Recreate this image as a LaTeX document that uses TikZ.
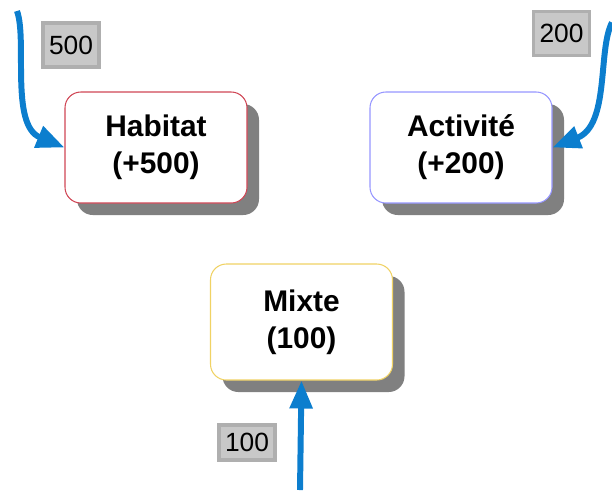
\documentclass[tikz,border=0pt]{standalone}
\usepackage{fontspec}
\setmainfont{Liberation Sans}
\usepackage{xcolor}
\usetikzlibrary{arrows.meta,positioning,shadows}
\definecolor{flowblue}{RGB}{12,126,206}
\definecolor{habred}{RGB}{208,70,85}
\definecolor{actblue}{RGB}{150,150,255}
\definecolor{mixyellow}{RGB}{240,210,100}
\definecolor{lblgray}{RGB}{200,200,200}
\definecolor{lbledge}{RGB}{175,175,175}

\begin{document}
\begin{tikzpicture}[>={Triangle[length=0.56cm,width=0.44cm]},
  box/.style={draw,line width=0.6pt,rounded corners=9pt,fill=white,minimum width=3.64cm,minimum height=2.22cm,
    align=center,font=\fontsize{17}{21}\selectfont\bfseries,
    drop shadow={shadow xshift=0.24cm,shadow yshift=-0.24cm,fill=black!50,opacity=1}},
  lbl/.style={draw=lbledge,line width=2pt,fill=lblgray,inner sep=2pt,minimum width=1.12cm,minimum height=0.88cm,
    font=\fontsize{15}{18}\selectfont},
  flow/.style={->,draw=flowblue,line width=3.4pt}]
  \useasboundingbox (0,0) rectangle (12.24,-9.8);
  \node[box,draw=habred](hab) at (3.12,-2.95){Habitat\\(+500)};
  \node[box,draw=actblue](act) at (9.22,-2.95){Activité\\(+200)};
  \node[box,draw=mixyellow,minimum height=2.32cm](mix) at (6.03,-6.44){Mixte\\(100)};
  \node[lbl](l500) at (1.42,-0.9){500};
  \node[lbl](l200) at (11.23,-0.67){200};
  \node[lbl,minimum height=0.7cm](l100) at (4.94,-8.85){100};
  % incoming flows
  \coordinate (s500) at (0.34,-0.22);
  \coordinate (s200) at (12.24,-0.45);
  \coordinate (s100) at (6.0,-9.8);
  \draw[flow] (s500) .. controls (0.55,-0.8) and (0.2,-2.5) .. (hab.west);
  \draw[flow] (s200) .. controls (11.95,-1.0) and (12.2,-2.5) .. (act.east);
  \draw[flow] (s100) -- (mix.south);
\end{tikzpicture}
\end{document}
